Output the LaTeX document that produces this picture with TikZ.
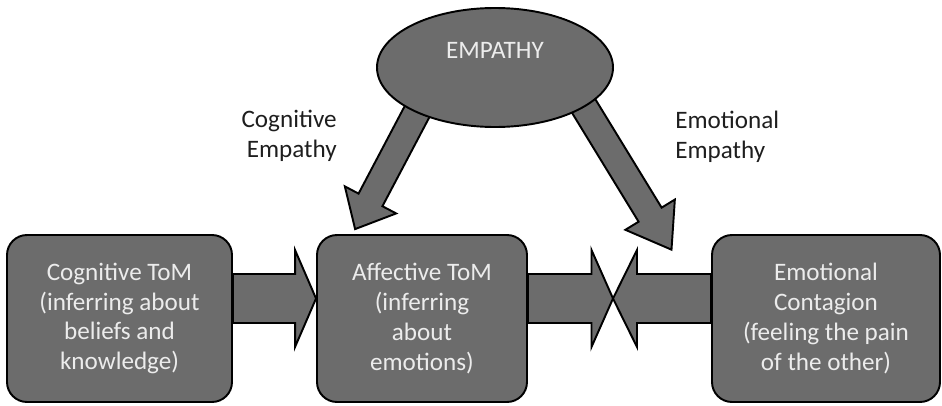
\documentclass[tikz,border=0pt]{standalone}
\usepackage{fontspec}
\setmainfont{Carlito}
\usetikzlibrary{shapes.geometric,calc,backgrounds}

\definecolor{boxgray}{RGB}{108,108,108}
\definecolor{boxtext}{RGB}{236,236,236}
\definecolor{labeltext}{RGB}{30,30,30}

\newcommand{\boxfont}{\fontsize{14.3}{17}\selectfont}

% block arrow: from, to, shaft half width, head half width, head length
\newcommand{\fatarrow}[5]{%
  \draw[blockarrow] let \p1=(#1), \p2=(#2),
      \n1={atan2(\y2-\y1,\x2-\x1)}, \n2={veclen(\x2-\x1,\y2-\y1)} in
    ([shift={(\p1)}, rotate=\n1] 0pt,#3)
    -- ([shift={(\p1)}, rotate=\n1] \n2-#5,#3)
    -- ([shift={(\p1)}, rotate=\n1] \n2-#5,#4)
    -- ([shift={(\p1)}, rotate=\n1] \n2,0pt)
    -- ([shift={(\p1)}, rotate=\n1] \n2-#5,-#4)
    -- ([shift={(\p1)}, rotate=\n1] \n2-#5,-#3)
    -- ([shift={(\p1)}, rotate=\n1] 0pt,-#3)
    -- cycle;%
}

\tikzset{
  tombox/.style={draw=black, line width=1.1pt, fill=boxgray, rounded corners=0.4cm,
    minimum height=3.34cm, inner sep=0pt, align=center, text=boxtext, font=\boxfont},
  empbubble/.style={ellipse, draw=black, line width=1.1pt, fill=boxgray,
    minimum width=4.72cm, minimum height=2.38cm, inner sep=0pt, text=boxtext,
    font=\boxfont, text depth=0.7cm},
  blockarrow/.style={draw=black, line width=1.1pt, fill=boxgray, line join=miter},
  sidelabel/.style={inner sep=0pt, text=labeltext, font=\boxfont},
}

\begin{document}
\begin{tikzpicture}
\useasboundingbox (0,0) rectangle (18.84,8.1);

% the three boxes
\node[tombox, minimum width=4.5cm] (cog) at (2.39,1.73)
  {Cognitive ToM\\(inferring about\\beliefs and\\knowledge)};
\node[tombox, minimum width=4.2cm] (aff) at (8.44,1.73)
  {Affective ToM\\(inferring\\about\\emotions)};
\node[tombox, minimum width=4.56cm] (emo) at (16.52,1.73)
  {Emotional\\Contagion\\(feeling the pain\\of the other)};

% empathy on top, text sits high in the ellipse
\node[empbubble] (emp) at (9.9,6.75) {EMPATHY};

\coordinate (midline) at (0,2.13);
\coordinate (cross) at (12.26,2.13);
\coordinate (ltip) at (7.1,3.514);
\coordinate (rtip) at (13.434,3.10);

\begin{scope}[on background layer]
% horizontal arrows
\fatarrow{cog.east |- midline}{aff.west |- midline}{0.49cm}{0.97cm}{0.42cm}
\fatarrow{aff.east |- midline}{cross}{0.49cm}{0.97cm}{0.43cm}
\fatarrow{emo.west |- midline}{cross}{0.49cm}{0.97cm}{0.48cm}

% arrows down from empathy
\fatarrow{$(ltip)!1.2!(emp.210)$}{ltip}{0.27cm}{0.58cm}{0.66cm}
\fatarrow{$(rtip)!1.2!(emp.336)$}{rtip}{0.27cm}{0.58cm}{0.82cm}
\end{scope}

\node[sidelabel, align=right, anchor=east] (coglab) at (6.74,5.38) {Cognitive\\Empathy};
\node[sidelabel, align=left, anchor=west] (emolab) at (13.5,5.37) {Emotional\\Empathy};
\end{tikzpicture}
\end{document}
